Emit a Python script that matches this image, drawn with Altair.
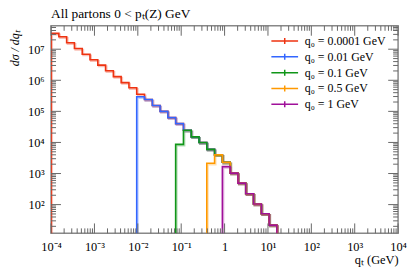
import altair as alt
import pandas as pd

# ---- data ----
edges = [1.0e-4, 1.512e-4, 2.286e-4, 3.456e-4, 5.224e-4, 7.898e-4, 1.194e-3,
         1.805e-3, 2.729e-3, 4.125e-3, 6.237e-3, 9.429e-3, 1.426e-2, 2.155e-2,
         3.258e-2, 4.926e-2, 7.447e-2, 0.1126, 0.1702, 0.2573, 0.3890, 0.5881,
         0.8892, 1.344, 2.032, 3.072, 4.645, 7.023, 10.62, 16.05]

labels = ["q₀ = 0.0001 GeV", "q₀ = 0.01 GeV", "q₀ = 0.1 GeV",
          "q₀ = 0.5 GeV", "q₀ = 1 GeV"]
colors = ["#ee3311", "#3366ff", "#109618", "#ff9900", "#a0109a"]
start_bin = [0, 11, 16, 20, 22]

red = [3.24e7, 2.52e7, 1.62e7, 1.05e7, 6.92e6, 4.56e6, 3.08e6, 2.03e6, 1.31e6,
       8.41e5, 5.74e5, 3.55e5, 2.41e5, 1.55e5, 9.98e4, 6.28e4, 4.04e4, 2.47e4,
       1.51e4, 1.00e4, 5.98e3, 3.99e3, 2.30e3, 1.03e3, 492, 224, 105, 50.5, 21.9]
blue = [2.95e5, 2.41e5, 1.55e5, 9.98e4, 6.28e4, 4.04e4, 2.47e4, 1.51e4, 1.00e4,
        5.98e3, 3.99e3, 2.30e3, 1.03e3, 492, 224, 105, 50.5, 21.9]
green = [8.65e3, 2.47e4, 1.51e4, 1.00e4, 5.98e3, 3.99e3, 2.30e3, 1.03e3, 492,
         224, 105, 50.5, 21.9]
orange = [2.14e3, 3.99e3, 2.30e3, 1.03e3, 492, 224, 105, 50.5, 21.9]
magenta = [1.67e3, 1.03e3, 492, 224, 105, 50.5, 21.9]
series_values = [red, blue, green, orange, magenta]

x_major = [1e-4, 1e-3, 1e-2, 1e-1, 1, 1e1, 1e2, 1e3, 1e4]
x_labels = ["10⁻⁴", "10⁻³", "10⁻²", "10⁻¹", "1", "10¹", "10²", "10³", "10⁴"]
y_major = [1e2, 1e3, 1e4, 1e5, 1e6, 1e7]
y_labels = ["10²", "10³", "10⁴", "10⁵", "10⁶", "10⁷"]

X_MIN, X_MAX = 1e-4, 1e4
Y_MIN, Y_MAX = 11.9, 5.66e7

x_minor = [m * 10.0 ** k for k in range(-4, 4) for m in range(2, 10)]
y_minor = [m * 10.0 ** k for k in range(1, 8) for m in range(2, 10)
           if Y_MIN <= m * 10.0 ** k <= Y_MAX]

# ---- build step-histogram table ----
rows = []
for lab, st, vals in zip(labels, start_bin, series_values):
    rows.append({"series": lab, "q": edges[st], "v": Y_MIN, "i": 0})
    for j, v in enumerate(vals):
        rows.append({"series": lab, "q": edges[st + j], "v": v, "i": j + 1})
    rows.append({"series": lab, "q": edges[st + len(vals)], "v": Y_MIN,
                 "i": len(vals) + 1})
df = pd.DataFrame(rows)

W, H = 350.5, 209.6
FONT = "Liberation Serif"
TICK = "#666666"

xarr = "[" + ",".join(f"'{l}'" for l in x_labels) + "]"
yarr = "[" + ",".join(f"'{l}'" for l in y_labels) + "]"

X = alt.X("q:Q",
          scale=alt.Scale(type="log", domain=[X_MIN, X_MAX], nice=False),
          axis=alt.Axis(values=x_major, ticks=False, grid=False, domain=False,
                        labelExpr=f"{xarr}[round(log(datum.value)/LN10)+4]",
                        labelFont=FONT, labelFontSize=12.5, labelColor="black",
                        labelPadding=7, labelFlush=False, labelOverlap=False,
                        labelBound=False,
                        title="qₜ (GeV)", titleFont=FONT, titleFontSize=12.5,
                        titleFontWeight="normal", titleColor="black",
                        titleAnchor="end", titleAlign="right",
                        titleX=W, titleY=30, titleBaseline="alphabetic"))
Y = alt.Y("v:Q",
          scale=alt.Scale(type="log", domain=[Y_MIN, Y_MAX], nice=False),
          axis=alt.Axis(values=y_major, ticks=False, grid=False, domain=False,
                        labelExpr=f"{yarr}[round(log(datum.value)/LN10)-2]",
                        labelFont=FONT, labelFontSize=12.5, labelColor="black",
                        labelPadding=7, labelFlush=False, labelOverlap=False,
                        title="dσ / dqₜ", titleFont=FONT, titleFontSize=12,
                        titleFontStyle="italic", titleFontWeight="normal",
                        titleColor="black", titleAngle=270, titleAlign="right",
                        titleBaseline="middle", titleX=-37, titleY=4))

color = alt.Color("series:N",
                  scale=alt.Scale(domain=labels, range=colors),
                  legend=alt.Legend(title=None, orient="none", legendX=228.5,
                                    legendY=7.8, padding=0,
                                    symbolType="M-2,0H2M0,-0.45V0.45",
                                    symbolSize=182, symbolStrokeWidth=1.5,
                                    symbolOpacity=1, symbolFillColor="transparent",
                                    labelFont=FONT, labelFontSize=12,
                                    labelColor="black", labelOffset=12.75,
                                    rowPadding=2, labelLimit=200))

base = alt.Chart(df)
halo = base.mark_line(interpolate="step-after", strokeWidth=2, opacity=0.3,
                      xOffset=1, yOffset=1.2, clip=True).encode(
    x=X, y=Y, color=color, order="i:Q")
lines = base.mark_line(interpolate="step-after", strokeWidth=1.6,
                       clip=True).encode(x=X, y=Y, color=color, order="i:Q")

dxM = pd.DataFrame({"q": x_major})
dxm = pd.DataFrame({"q": x_minor})
dyM = pd.DataFrame({"v": y_major})
dym = pd.DataFrame({"v": y_minor})

def xticks(d, length):
    bot = alt.Chart(d).mark_rule(color=TICK, strokeWidth=1).encode(
        x=X, y=alt.value(H), y2=alt.value(H - length))
    top = alt.Chart(d).mark_rule(color=TICK, strokeWidth=1).encode(
        x=X, y=alt.value(0), y2=alt.value(length))
    return [bot, top]

def yticks(d, length):
    left = alt.Chart(d).mark_rule(color=TICK, strokeWidth=1).encode(
        y=Y, x=alt.value(0), x2=alt.value(length))
    right = alt.Chart(d).mark_rule(color=TICK, strokeWidth=1).encode(
        y=Y, x=alt.value(W), x2=alt.value(W - length))
    return [left, right]

layers = [halo, lines] + xticks(dxM, 10) + xticks(dxm, 5) + yticks(dyM, 10) + yticks(dym, 5)

chart = alt.layer(*layers).properties(
    width=W, height=H,
    padding={"left": 43.5, "top": 16.7, "right": 9, "bottom": 33},
    autosize=alt.AutoSizeParams(type="none"),
    title=alt.TitleParams("All partons 0 < pₜ(Z) GeV", anchor="start",
                          font=FONT, fontSize=13.5, fontWeight="normal",
                          color="black", offset=5, frame="group"),
).configure_view(stroke="#888888", strokeWidth=1.5)

chart.save("out.html", embed_options={"renderer": "svg", "actions": False})
